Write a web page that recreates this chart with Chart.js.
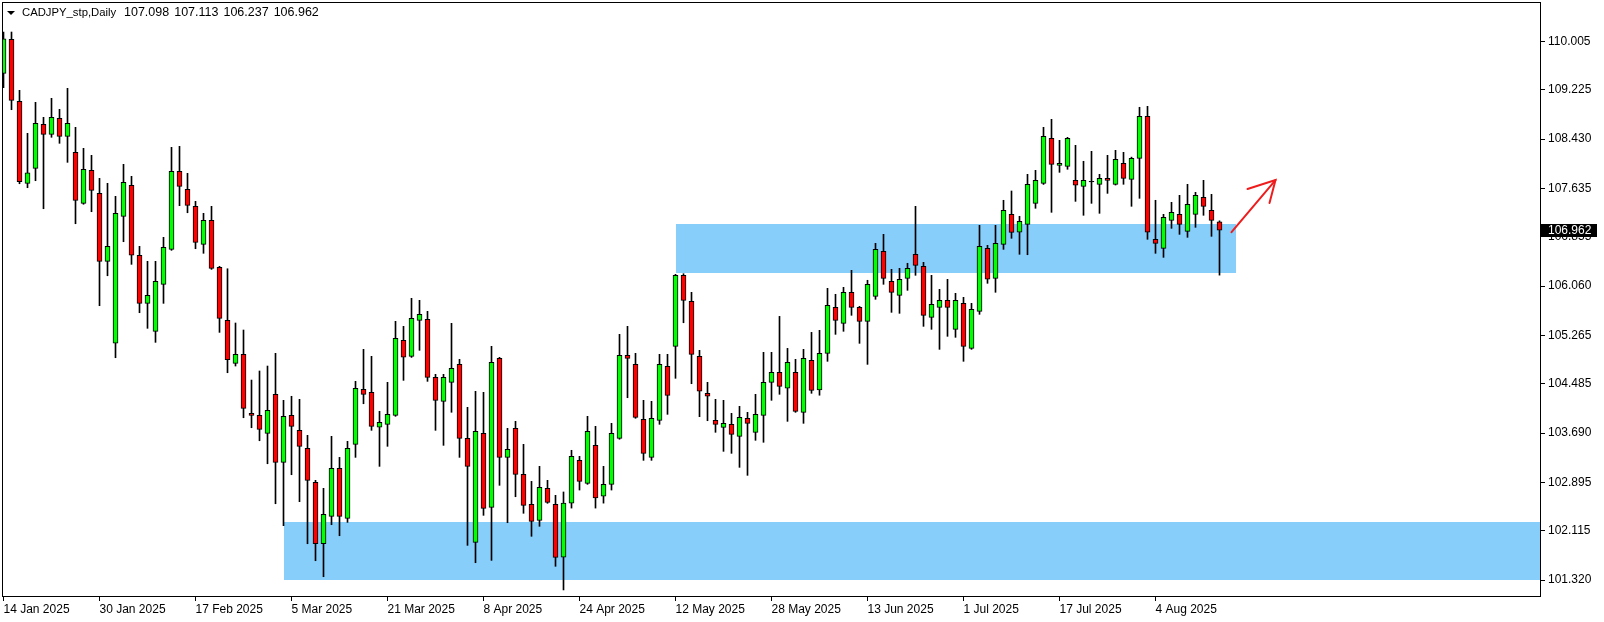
<!DOCTYPE html>
<html>
<head>
<meta charset="utf-8">
<script src="https://cdn.jsdelivr.net/npm/chart.js@4.4.1/dist/chart.umd.min.js"></script>
<style>
  html, body { margin: 0; padding: 0; background: #fff; }
</style>
</head>
<body>
<canvas id="chart" width="1604" height="622"></canvas>
<script>
// CADJPY daily candles, one per weekday from 14 Jan 2025 (index 0)
const opens = [
  109.492, 110.040, 109.040, 107.718, 107.960, 108.669, 108.508, 108.766, 108.476, 108.218,
  107.395, 107.927, 107.556, 106.460, 105.138, 107.185, 107.685, 106.557, 105.782, 105.330,
  106.089, 106.653, 107.911, 107.621, 107.347, 106.734, 107.121, 106.363, 105.508, 104.815,
  104.960, 104.009, 103.976, 103.686, 104.315, 103.218, 103.976, 103.734, 103.444, 102.895,
  101.905, 102.347, 103.121, 102.315, 103.508, 104.395, 104.347, 103.783, 103.831, 103.976,
  105.186, 104.928, 105.508, 105.524, 104.589, 104.202, 104.508, 104.798, 103.605, 101.928,
  103.686, 102.492, 104.895, 103.298, 103.766, 103.024, 102.540, 102.283, 102.799, 102.540,
  101.690, 102.560, 103.250, 102.879, 103.492, 102.674, 102.863, 103.605, 104.944, 104.798,
  103.911, 103.298, 103.895, 104.766, 105.089, 106.234, 105.815, 104.928, 104.331, 103.895,
  103.782, 103.831, 103.637, 103.928, 103.702, 103.976, 104.508, 104.669, 104.412, 104.669,
  104.024, 104.863, 104.384, 104.976, 105.718, 105.460, 105.960, 105.718, 105.492, 105.895,
  106.621, 106.137, 105.911, 106.185, 106.573, 106.379, 105.557, 105.718, 105.831, 105.363,
  105.782, 105.057, 105.653, 106.669, 106.185, 106.734, 107.218, 106.928, 107.056, 107.395,
  107.718, 108.444, 108.008, 107.992, 107.766, 107.669, 107.744, 107.702, 107.798, 107.702,
  108.040, 107.782, 108.121, 108.798, 106.815, 106.669, 107.121, 107.218, 106.944, 107.218,
  107.492, 107.282, 107.098
];
const highs = [
  110.158, 110.158, 109.218, 108.524, 109.024, 108.782, 109.089, 108.911, 109.250, 108.621,
  108.282, 108.169, 107.798, 107.718, 107.508, 108.024, 107.831, 106.702, 106.460, 106.460,
  106.847, 108.298, 108.314, 107.879, 107.427, 107.234, 107.347, 106.379, 106.340, 105.465,
  105.352, 104.545, 104.691, 104.771, 104.976, 104.218, 104.283, 104.234, 103.653, 102.928,
  102.799, 103.637, 103.298, 103.557, 104.524, 105.040, 104.928, 104.041, 104.508, 105.492,
  105.411, 105.863, 105.831, 105.653, 104.637, 104.637, 105.460, 104.879, 104.105, 104.363,
  104.347, 105.089, 104.911, 103.766, 103.879, 103.508, 102.911, 103.153, 102.928, 102.686,
  102.740, 103.412, 103.315, 103.960, 103.799, 103.153, 103.847, 105.282, 105.411, 104.976,
  104.218, 104.202, 104.960, 104.960, 106.250, 106.260, 105.960, 105.024, 104.508, 104.234,
  104.218, 104.008, 104.121, 104.024, 104.315, 104.992, 104.992, 105.572, 105.056, 104.879,
  105.040, 105.314, 105.347, 106.024, 105.928, 106.040, 106.315, 105.734, 106.154, 106.750,
  106.895, 106.331, 106.347, 106.428, 107.347, 106.444, 106.234, 106.008, 106.169, 105.944,
  105.879, 105.782, 107.040, 106.718, 107.040, 107.444, 107.594, 107.186, 107.863, 107.927,
  108.621, 108.750, 108.411, 108.460, 108.331, 108.073, 108.234, 107.863, 108.169, 108.250,
  108.218, 108.140, 108.944, 108.960, 107.444, 107.218, 107.411, 107.524, 107.702, 107.573,
  107.766, 107.540, 107.113
];
const lows = [
  109.260, 108.905, 107.711, 107.647, 107.760, 107.308, 108.460, 108.363, 108.056, 107.066,
  107.380, 107.260, 105.744, 106.227, 104.905, 106.776, 106.411, 105.631, 105.379, 105.153,
  105.782, 106.637, 107.357, 107.243, 106.663, 106.589, 106.330, 105.314, 104.663, 104.771,
  103.937, 103.776, 103.566, 103.195, 102.550, 102.196, 103.018, 102.583, 101.905, 101.631,
  101.373, 102.212, 102.034, 102.250, 103.298, 104.163, 103.734, 103.153, 103.476, 103.960,
  104.540, 104.910, 105.024, 104.524, 103.734, 103.492, 104.025, 103.298, 101.879, 101.599,
  102.363, 101.637, 102.847, 102.244, 102.663, 102.396, 102.025, 102.186, 102.557, 101.541,
  101.160, 102.480, 102.771, 102.863, 102.480, 102.560, 102.771, 103.590, 104.260, 103.928,
  103.250, 103.250, 103.831, 103.992, 104.573, 105.469, 104.486, 103.954, 103.889, 103.702,
  103.395, 103.363, 103.137, 103.008, 103.573, 103.541, 104.218, 104.315, 103.879, 104.024,
  103.847, 104.331, 104.300, 104.847, 105.282, 105.331, 105.589, 105.137, 104.798, 105.847,
  106.089, 105.637, 105.621, 105.992, 106.234, 105.411, 105.363, 105.040, 105.250, 105.234,
  104.847, 105.040, 105.605, 106.105, 105.960, 106.653, 106.831, 106.573, 106.566, 107.315,
  107.700, 107.250, 107.895, 107.944, 107.427, 107.202, 107.395, 107.234, 107.556, 107.690,
  107.702, 107.347, 107.476, 106.815, 106.589, 106.524, 106.992, 106.895, 106.847, 107.008,
  107.202, 106.863, 106.237
];
const closes = [
  110.050, 109.056, 107.744, 107.889, 108.685, 108.508, 108.782, 108.476, 108.685, 107.443,
  107.944, 107.605, 106.460, 106.702, 107.234, 107.734, 106.557, 105.782, 105.911, 106.137,
  106.685, 107.911, 107.669, 107.363, 106.766, 107.121, 106.347, 105.540, 104.873, 104.960,
  104.089, 103.976, 103.750, 104.057, 103.217, 103.960, 103.799, 103.476, 102.928, 101.905,
  102.379, 103.121, 102.347, 103.444, 104.411, 104.315, 103.799, 103.863, 103.992, 105.218,
  104.912, 105.541, 105.605, 104.589, 104.218, 104.589, 104.734, 103.605, 103.153, 103.718,
  102.476, 104.831, 103.298, 103.428, 103.024, 102.524, 102.266, 102.815, 102.573, 101.686,
  102.560, 103.315, 102.912, 103.718, 102.642, 102.862, 103.686, 104.944, 104.895, 103.944,
  103.363, 103.927, 104.798, 104.298, 106.234, 105.831, 104.960, 104.364, 104.283, 103.831,
  103.847, 103.670, 103.944, 103.847, 103.992, 104.508, 104.669, 104.444, 104.831, 104.040,
  104.895, 104.379, 104.976, 105.750, 105.508, 105.960, 105.718, 105.492, 106.089, 106.653,
  106.185, 105.960, 106.169, 106.347, 106.395, 105.589, 105.766, 105.831, 105.718, 105.831,
  105.089, 105.686, 106.702, 106.170, 106.750, 107.282, 106.927, 107.105, 107.702, 107.766,
  108.476, 108.024, 108.040, 108.444, 107.686, 107.766, 107.744, 107.798, 107.766, 108.105,
  107.798, 108.121, 108.798, 106.928, 106.750, 107.169, 107.250, 107.056, 107.379, 107.524,
  107.347, 107.121, 106.962
];

const symbolTitle = 'CADJPY_stp,Daily';

const xTickIndex = [0, 12, 24, 36, 48, 60, 72, 84, 96, 108, 120, 132, 144];
const xTickLabels = [
  '14 Jan 2025', '30 Jan 2025', '17 Feb 2025', '5 Mar 2025', '21 Mar 2025', '8 Apr 2025',
  '24 Apr 2025', '12 May 2025', '28 May 2025', '13 Jun 2025', '1 Jul 2025', '17 Jul 2025',
  '4 Aug 2025'
];
const yTickValues = [
  110.005, 109.225, 108.430, 107.635, 106.855, 106.060,
  105.265, 104.485, 103.690, 102.895, 102.115, 101.320
];

// supply / demand zones: candle index range and price range (null end = right edge)
const zoneStart = [84, 35];
const zoneEnd = [154, null];
const zoneLow = [106.271, 101.320];
const zoneHigh = [107.061, 102.255];

// hand drawn arrow, candle index / price
const arrowLineX = [153.5, 159];
const arrowLineY = [106.93, 107.77];
const arrowHeadX = [155.5, 159, 158.25];
const arrowHeadY = [107.626, 107.77, 107.40];

const FONT = 'Liberation Sans, Arial, sans-serif';

const idx = opens.map((_, i) => i);
const last = opens.length - 1;

const bodies = idx.map(i => {
  if (opens[i] === closes[i]) return { x: i, y: [opens[i] - 0.004, opens[i] + 0.004] };
  return { x: i, y: [opens[i], closes[i]] };
});
const wicks = idx.map(i => ({ x: i, y: [lows[i], highs[i]] }));
const bodyColors = idx.map(i =>
  closes[i] > opens[i] ? '#00ff00' : closes[i] < opens[i] ? '#ff0000' : '#000000'
);

const zonesPlugin = {
  id: 'zones',
  beforeDatasetsDraw(chart) {
    const { ctx, chartArea } = chart;
    const xs = chart.scales.x, ys = chart.scales.y;
    ctx.save();
    ctx.beginPath();
    ctx.rect(chartArea.left, chartArea.top, chartArea.width, chartArea.height);
    ctx.clip();
    ctx.fillStyle = '#87cefa';
    for (let k = 0; k < zoneStart.length; k++) {
      const x1 = xs.getPixelForValue(zoneStart[k]);
      const x2 = zoneEnd[k] === null ? chartArea.right : xs.getPixelForValue(zoneEnd[k]);
      const y1 = ys.getPixelForValue(zoneHigh[k]);
      const y2 = ys.getPixelForValue(zoneLow[k]);
      ctx.fillRect(Math.round(x1), Math.round(y1), Math.round(x2) - Math.round(x1), Math.round(y2) - Math.round(y1));
    }
    ctx.restore();
  }
};

const overlayPlugin = {
  id: 'overlay',
  afterDraw(chart) {
    const { ctx, chartArea } = chart;
    const xs = chart.scales.x, ys = chart.scales.y;
    ctx.save();

    // frame
    ctx.strokeStyle = '#000';
    ctx.lineWidth = 1;
    ctx.strokeRect(chartArea.left - 0.5, chartArea.top - 0.5, chartArea.width, chartArea.height);

    // arrow
    ctx.strokeStyle = '#ee1c1c';
    ctx.lineWidth = 2;
    ctx.lineCap = 'round';
    ctx.beginPath();
    ctx.moveTo(xs.getPixelForValue(arrowLineX[0]), ys.getPixelForValue(arrowLineY[0]));
    ctx.lineTo(xs.getPixelForValue(arrowLineX[1]), ys.getPixelForValue(arrowLineY[1]));
    ctx.stroke();
    ctx.beginPath();
    arrowHeadX.forEach((v, k) => {
      const px = xs.getPixelForValue(v), py = ys.getPixelForValue(arrowHeadY[k]);
      if (k === 0) ctx.moveTo(px, py); else ctx.lineTo(px, py);
    });
    ctx.stroke();

    // header
    ctx.fillStyle = '#000';
    ctx.beginPath();
    ctx.moveTo(7, 11);
    ctx.lineTo(15, 11);
    ctx.lineTo(11, 15);
    ctx.closePath();
    ctx.fill();
    ctx.textBaseline = 'middle';
    ctx.textAlign = 'left';
    ctx.font = '11.3px ' + FONT;
    ctx.fillText(symbolTitle, 22, 13);
    ctx.font = '12.5px ' + FONT;
    const ohlc = [opens[last], highs[last], lows[last], closes[last]].map(v => v.toFixed(3));
    let hx = 124;
    ohlc.forEach(s => {
      ctx.fillText(s, hx, 13);
      hx += ctx.measureText(s).width + 5;
    });

    // bid price label
    ctx.font = '12px ' + FONT;
    const py = Math.round(ys.getPixelForValue(closes[last]));
    ctx.fillStyle = '#000';
    ctx.fillRect(chartArea.right, py - 6, 56, 13);
    ctx.fillStyle = '#fff';
    ctx.fillText(closes[last].toFixed(3), 1548, py + 1);
    ctx.restore();
  }
};

new Chart(document.getElementById('chart'), {
  type: 'bar',
  data: {
    datasets: [
      {
        label: 'body',
        data: bodies,
        backgroundColor: bodyColors,
        borderColor: '#000',
        borderWidth: 1,
        borderSkipped: false,
        barThickness: 5,
        grouped: false,
        order: 0
      },
      {
        label: 'wick',
        data: wicks,
        backgroundColor: '#000',
        borderWidth: 0,
        barThickness: 1,
        grouped: false,
        order: 1
      }
    ]
  },
  options: {
    responsive: false,
    animation: false,
    events: [],
    devicePixelRatio: 1,
    layout: { padding: { left: 3, top: 3, right: 0, bottom: 0 } },
    plugins: { legend: { display: false }, tooltip: { enabled: false } },
    scales: {
      x: {
        type: 'linear',
        min: -0.0625,
        max: 192.1875,
        offset: false,
        grid: { drawOnChartArea: false, drawTicks: true, tickLength: 4, color: '#000', offset: false },
        border: { display: false },
        ticks: {
          autoSkip: false,
          maxRotation: 0,
          align: 'start',
          padding: 1,
          color: '#000',
          font: { family: FONT, size: 12 },
          callback: (v, i) => xTickLabels[i]
        },
        afterBuildTicks: s => { s.ticks = xTickIndex.map(v => ({ value: v })); },
        afterFit: s => { s.height = 25; s.paddingLeft = 0; s.paddingRight = 0; }
      },
      y: {
        position: 'right',
        min: 101.046,
        max: 110.626,
        grid: { drawOnChartArea: false, drawTicks: true, tickLength: 4, color: '#000' },
        border: { display: false },
        ticks: {
          padding: 3,
          color: '#000',
          font: { family: FONT, size: 12 },
          callback: (v, i) => yTickValues[i].toFixed(3)
        },
        afterBuildTicks: s => { s.ticks = yTickValues.map(v => ({ value: v })); },
        afterFit: s => { s.width = 63; s.paddingTop = 0; s.paddingBottom = 0; }
      }
    }
  },
  plugins: [zonesPlugin, overlayPlugin]
});
</script>
</body>
</html>
